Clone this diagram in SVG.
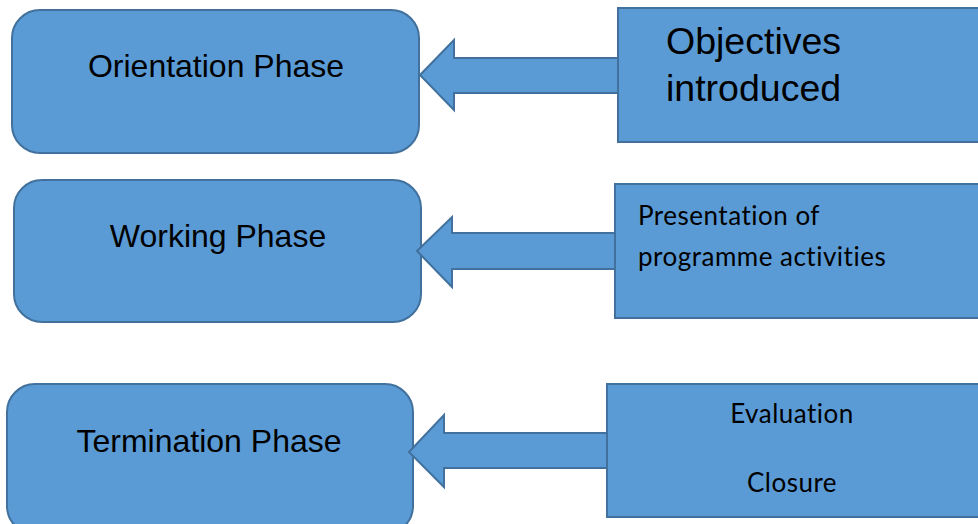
<svg xmlns="http://www.w3.org/2000/svg" width="978" height="524" viewBox="0 0 978 524">
<style>
.shape{fill:#5B9BD5;stroke:#41719C;stroke-width:2}
.big{font-family:"Liberation Sans",Arial,sans-serif;font-size:32px;fill:#000}
.obj{font-family:"Liberation Sans",Arial,sans-serif;font-size:37.5px;fill:#000}
.cal{font-family:Lato,"Open Sans",sans-serif;font-size:26px;letter-spacing:0.5px;fill:#000}
</style>
<rect width="978" height="524" fill="#fff"/>
<g id="orientation">
<rect class="shape" x="12" y="10" width="407" height="143" rx="28"/>
<text class="big" x="216" y="77" text-anchor="middle">Orientation Phase</text>
</g>
<g id="working">
<rect class="shape" x="14" y="180" width="407" height="142" rx="28"/>
<text class="big" x="218" y="247" text-anchor="middle">Working Phase</text>
</g>
<g id="termination">
<rect class="shape" x="7" y="384" width="406" height="150" rx="28"/>
<text class="big" x="209" y="452" text-anchor="middle">Termination Phase</text>
</g>
<g id="connectors">
<polygon class="shape" points="420,75 454,40 454,58 619,58 619,93 454,93 454,110"/>
<polygon class="shape" points="417,251 452,217 452,233 616,233 616,269 452,269 452,287"/>
<polygon class="shape" points="409,452 444,415 444,433 608,433 608,468 444,468 444,487"/>
</g>
<g id="objectives">
<rect class="shape" x="618" y="8" width="362" height="134"/>
<text class="obj" x="666" y="54">Objectives</text>
<text class="obj" x="666" y="101">introduced</text>
</g>
<g id="presentation">
<rect class="shape" x="615" y="184" width="365" height="134"/>
<text class="cal" x="638" y="225">Presentation of</text>
<text class="cal" x="638" y="266">programme activities</text>
</g>
<g id="evaluation">
<rect class="shape" x="607" y="384" width="373" height="133"/>
<text class="cal" x="792" y="423" text-anchor="middle">Evaluation</text>
<text class="cal" x="792" y="492" text-anchor="middle">Closure</text>
</g>
</svg>
